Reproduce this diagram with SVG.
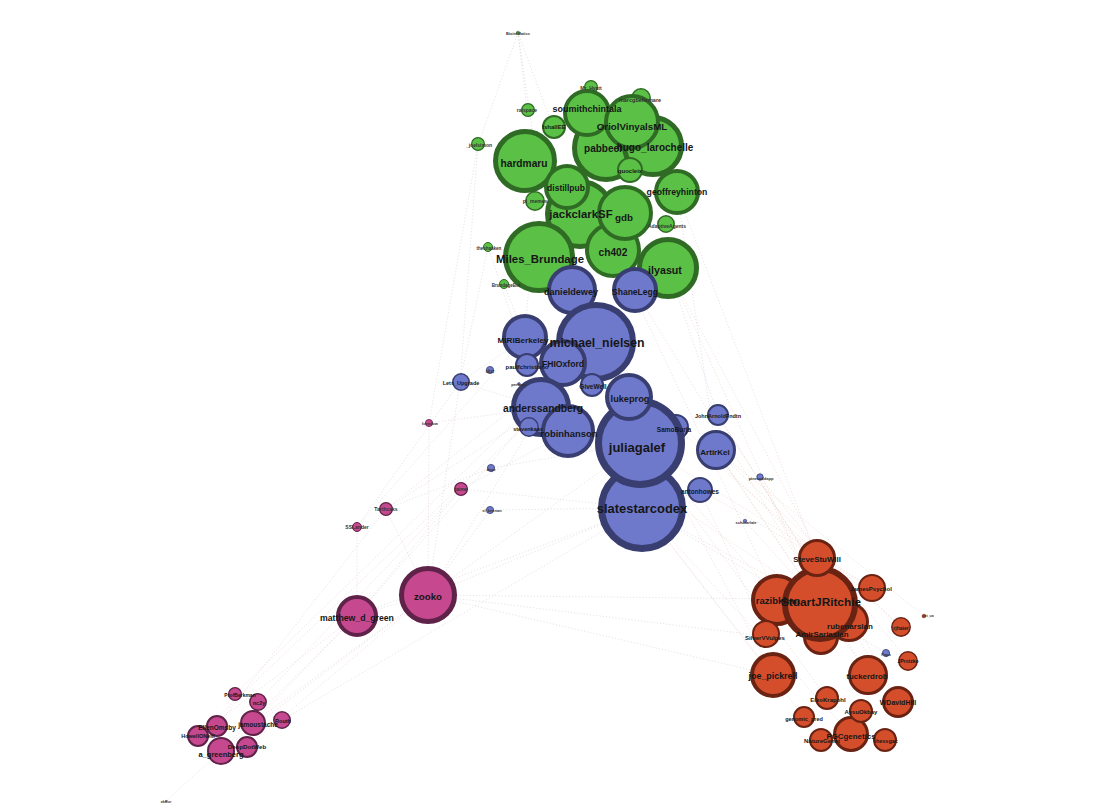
<svg xmlns="http://www.w3.org/2000/svg" width="1100" height="811" viewBox="0 0 1100 811">
<style>
.e{fill:none;stroke-width:0.6;stroke-dasharray:1.2 2;opacity:0.6}
.eg{stroke:#b4b4b4}.ep{stroke:#cfaabd}.eb{stroke:#adb1d3}.eo{stroke:#d9ada1}
.g circle{fill:#5bc146;stroke:#2f6b24}
.b circle{fill:#6e79cc;stroke:#393e70}
.p circle{fill:#c6498f;stroke:#5f2248}
.o circle{fill:#d54e2b;stroke:#6a2313}
text{font-family:"Liberation Sans",Arial,sans-serif;font-weight:bold;fill:#161616;text-anchor:middle;dominant-baseline:central}
.s{fill:#333}
</style>
<rect width="1100" height="811" fill="#ffffff"/>
<g id="connectors">
<line class="e eg" x1="518" y1="33" x2="527" y2="110"/>
<line class="e eg" x1="518" y1="33" x2="553" y2="127"/>
<line class="e eg" x1="518" y1="33" x2="478" y2="145"/>
<line class="e eg" x1="518" y1="33" x2="537" y2="163"/>
<line class="e eg" x1="478" y1="145" x2="460" y2="382"/>
<line class="e eg" x1="488" y1="247" x2="460" y2="382"/>
<line class="e eg" x1="504" y1="284" x2="525" y2="338"/>
<line class="e eg" x1="488" y1="247" x2="543" y2="408"/>
<line class="e eg" x1="535" y1="201" x2="525" y2="338"/>
<line class="e eg" x1="478" y1="145" x2="429" y2="423"/>
<line class="e eb" x1="460" y1="382" x2="525" y2="338"/>
<line class="e eb" x1="460" y1="382" x2="543" y2="408"/>
<line class="e eb" x1="460" y1="382" x2="357" y2="527"/>
<line class="e eb" x1="460" y1="382" x2="428" y2="595"/>
<line class="e ep" x1="429" y1="423" x2="543" y2="408"/>
<line class="e ep" x1="429" y1="423" x2="428" y2="595"/>
<line class="e ep" x1="461" y1="489" x2="569" y2="432"/>
<line class="e ep" x1="461" y1="489" x2="642" y2="508"/>
<line class="e ep" x1="461" y1="489" x2="357" y2="615"/>
<line class="e ep" x1="386" y1="509" x2="543" y2="408"/>
<line class="e ep" x1="386" y1="509" x2="428" y2="595"/>
<line class="e ep" x1="386" y1="509" x2="597" y2="342"/>
<line class="e ep" x1="357" y1="527" x2="357" y2="615"/>
<line class="e ep" x1="357" y1="527" x2="525" y2="338"/>
<line class="e eb" x1="491" y1="468" x2="640" y2="443"/>
<line class="e eb" x1="490" y1="510" x2="642" y2="508"/>
<line class="e eb" x1="490" y1="510" x2="428" y2="595"/>
<line class="e eb" x1="491" y1="468" x2="386" y2="509"/>
<line class="e eg" x1="428" y1="595" x2="642" y2="508"/>
<line class="e eg" x1="428" y1="595" x2="778" y2="599"/>
<line class="e eg" x1="428" y1="595" x2="773" y2="675"/>
<line class="e eg" x1="428" y1="595" x2="640" y2="443"/>
<line class="e eg" x1="428" y1="595" x2="543" y2="408"/>
<line class="e ep" x1="428" y1="595" x2="357" y2="615"/>
<line class="e eg" x1="428" y1="595" x2="764" y2="636"/>
<line class="e ep" x1="357" y1="615" x2="221" y2="751"/>
<line class="e ep" x1="357" y1="615" x2="253" y2="723"/>
<line class="e eg" x1="357" y1="615" x2="642" y2="508"/>
<line class="e eg" x1="357" y1="615" x2="597" y2="342"/>
<line class="e ep" x1="253" y1="723" x2="428" y2="595"/>
<line class="e ep" x1="221" y1="751" x2="428" y2="595"/>
<line class="e ep" x1="247" y1="747" x2="428" y2="595"/>
<line class="e ep" x1="282" y1="720" x2="642" y2="508"/>
<line class="e ep" x1="235" y1="694" x2="597" y2="342"/>
<line class="e ep" x1="198" y1="736" x2="543" y2="408"/>
<line class="e ep" x1="258" y1="702" x2="461" y2="489"/>
<line class="e ep" x1="217" y1="726" x2="386" y2="509"/>
<line class="e ep" x1="166" y1="801" x2="221" y2="751"/>
<line class="e ep" x1="198" y1="736" x2="357" y2="615"/>
<line class="e eo" x1="778" y1="599" x2="640" y2="443"/>
<line class="e eo" x1="820" y1="604" x2="642" y2="508"/>
<line class="e eo" x1="820" y1="604" x2="716" y2="450"/>
<line class="e eo" x1="817" y1="558" x2="597" y2="342"/>
<line class="e eo" x1="849" y1="622" x2="569" y2="432"/>
<line class="e eo" x1="773" y1="675" x2="642" y2="508"/>
<line class="e eo" x1="773" y1="675" x2="597" y2="342"/>
<line class="e eo" x1="868" y1="675" x2="716" y2="450"/>
<line class="e eo" x1="872" y1="588" x2="640" y2="443"/>
<line class="e eo" x1="766" y1="634" x2="700" y2="490"/>
<line class="e eo" x1="898" y1="702" x2="718" y2="415"/>
<line class="e eo" x1="851" y1="734" x2="642" y2="508"/>
<line class="e eo" x1="827" y1="698" x2="640" y2="443"/>
<line class="e eo" x1="901" y1="627" x2="716" y2="450"/>
<line class="e eo" x1="908" y1="661" x2="760" y2="477"/>
<line class="e eo" x1="745" y1="521" x2="820" y2="604"/>
<line class="e eo" x1="760" y1="477" x2="820" y2="604"/>
<line class="e eo" x1="820" y1="604" x2="668" y2="268"/>
<line class="e eo" x1="778" y1="599" x2="613" y2="250"/>
<line class="e eo" x1="817" y1="558" x2="677" y2="192"/>
<line class="e eo" x1="868" y1="675" x2="635" y2="290"/>
<line class="e eo" x1="901" y1="627" x2="676" y2="427"/>
<line class="e eo" x1="849" y1="622" x2="718" y2="415"/>
<line class="e eo" x1="872" y1="588" x2="700" y2="490"/>
<line class="e eo" x1="804" y1="717" x2="642" y2="508"/>
<line class="e eo" x1="898" y1="702" x2="668" y2="268"/>
<line class="e eo" x1="924" y1="616" x2="716" y2="450"/>
<line class="e eb" x1="886" y1="653" x2="642" y2="508"/>
<line class="e eb" x1="718" y1="415" x2="668" y2="268"/>
<line class="e eb" x1="716" y1="450" x2="677" y2="192"/>
</g>
<g id="nodes">
<g id="n-Mr_Hyatt" class="g"><circle cx="591" cy="87" r="6.4" stroke-width="1.2"/></g>
<g id="n-marcgbellemare" class="g"><circle cx="641" cy="98" r="9.2" stroke-width="1.5"/></g>
<g id="n-jackclarkSF" class="g"><circle cx="580" cy="214" r="32.5" stroke-width="5"/></g>
<g id="n-pabbeel" class="g"><circle cx="606" cy="148" r="31.5" stroke-width="5"/></g>
<g id="n-hugo_larochelle" class="g"><circle cx="653" cy="146" r="28.5" stroke-width="5"/></g>
<g id="n-hardmaru" class="g"><circle cx="525" cy="161" r="29.5" stroke-width="5"/></g>
<g id="n-Miles_Brundage" class="g"><circle cx="539" cy="257" r="33.5" stroke-width="5"/></g>
<g id="n-ilyasut" class="g"><circle cx="668" cy="268" r="28.5" stroke-width="5"/></g>
<g id="n-ch402" class="g"><circle cx="613" cy="250" r="26" stroke-width="4"/></g>
<g id="n-gdb" class="g"><circle cx="625" cy="213" r="26" stroke-width="4"/></g>
<g id="n-soumithchintala" class="g"><circle cx="587" cy="113" r="22" stroke-width="4"/></g>
<g id="n-OriolVinyalsML" class="g"><circle cx="632" cy="122" r="26" stroke-width="4"/></g>
<g id="n-distillpub" class="g"><circle cx="567" cy="187" r="21" stroke-width="4"/></g>
<g id="n-geoffreyhinton" class="g"><circle cx="677" cy="192" r="21" stroke-width="4"/></g>
<g id="n-quocleix" class="g"><circle cx="630" cy="170" r="12" stroke-width="2"/></g>
<g id="n-lshallEE" class="g"><circle cx="554" cy="127" r="11" stroke-width="2"/></g>
<g id="n-pl_memes" class="g"><circle cx="535" cy="201" r="9.2" stroke-width="1.5"/></g>
<g id="n-AdaptiveAgents" class="g"><circle cx="666" cy="224" r="8.2" stroke-width="1.5"/></g>
<g id="n-ralspace" class="g"><circle cx="528" cy="110" r="6.4" stroke-width="1.2"/></g>
<g id="n-_joelsimon" class="g"><circle cx="478" cy="144" r="6.4" stroke-width="1.2"/></g>
<g id="n-theshaaken" class="g"><circle cx="488" cy="247" r="4.5" stroke-width="1"/></g>
<g id="n-BrundageBot" class="g"><circle cx="504" cy="284" r="4.5" stroke-width="1"/></g>
<g id="n-BioinfMatics" class="g"><circle cx="518" cy="33" r="1.8" stroke-width="0.6"/></g>

<g id="n-danieldewey" class="b"><circle cx="572" cy="290" r="23" stroke-width="4"/></g>
<g id="n-ShaneLegg" class="b"><circle cx="635" cy="290" r="21" stroke-width="4"/></g>
<g id="n-MIRIBerkeley" class="b"><circle cx="525" cy="337" r="21" stroke-width="4"/></g>
<g id="n-michael_nielsen" class="b"><circle cx="596" cy="342" r="37" stroke-width="6"/></g>
<g id="n-FHIOxford" class="b"><circle cx="563" cy="363" r="22" stroke-width="4"/></g>
<g id="n-paulfchristiano" class="b"><circle cx="527" cy="365" r="11" stroke-width="2"/></g>
<g id="n-GiveWell" class="b"><circle cx="592" cy="385" r="11" stroke-width="2"/></g>
<g id="n-anderssandberg" class="b"><circle cx="541" cy="407" r="27.5" stroke-width="5"/></g>
<g id="n-robinhanson" class="b"><circle cx="568" cy="431" r="25" stroke-width="4"/></g>
<g id="n-stevenkaas" class="b"><circle cx="529" cy="427" r="9.2" stroke-width="1.5"/></g>
<g id="n-SamoBurja" class="b"><circle cx="676" cy="427" r="12" stroke-width="2"/></g>
<g id="n-slatestarcodex" class="b"><circle cx="642" cy="508" r="40.5" stroke-width="7"/></g>
<g id="n-juliagalef" class="b"><circle cx="640" cy="443" r="41.5" stroke-width="7"/></g>
<g id="n-lukeprog" class="b"><circle cx="629" cy="397" r="22" stroke-width="4"/></g>
<g id="n-JohnArnoldFndtn" class="b"><circle cx="718" cy="415" r="10" stroke-width="2"/></g>
<g id="n-ArtirKel" class="b"><circle cx="716" cy="450" r="18.5" stroke-width="3"/></g>
<g id="n-antonhowes" class="b"><circle cx="700" cy="490" r="12" stroke-width="2"/></g>
<g id="n-Lets_Upgrade" class="b"><circle cx="461" cy="382" r="8.2" stroke-width="1.5"/></g>
<g id="n-skzr" class="b"><circle cx="490" cy="370" r="3.6" stroke-width="0.8"/></g>
<g id="n-perhaps" class="b"><circle cx="519" cy="384" r="1.4" stroke-width="0.5"/></g>
<g id="n-pinesaddapp" class="b"><circle cx="760" cy="477" r="3.2" stroke-width="0.8"/></g>
<g id="n-scholarlaie" class="b"><circle cx="745" cy="521" r="1.8" stroke-width="0.6"/></g>
<g id="n-dnpr" class="b"><circle cx="491" cy="468" r="3.6" stroke-width="0.8"/></g>
<g id="n-sl_keenan" class="b"><circle cx="490" cy="510" r="3.6" stroke-width="0.8"/></g>
<g id="n-Papa" class="b"><circle cx="886" cy="653" r="3.6" stroke-width="0.8"/></g>

<g id="n-Iceadow" class="p"><circle cx="429" cy="423" r="3.6" stroke-width="0.8"/></g>
<g id="n-jaime" class="p"><circle cx="461" cy="489" r="6.4" stroke-width="1.2"/></g>
<g id="n-Tarthcaks" class="p"><circle cx="386" cy="509" r="6.4" stroke-width="1.2"/></g>
<g id="n-SSLander" class="p"><circle cx="357" cy="527" r="4.5" stroke-width="1"/></g>
<g id="n-zooko" class="p"><circle cx="428" cy="595" r="26.5" stroke-width="5"/></g>
<g id="n-matthew_d_green" class="p"><circle cx="357" cy="616" r="19" stroke-width="4"/></g>
<g id="n-HowellONeill" class="p"><circle cx="198" cy="736" r="10" stroke-width="2"/></g>
<g id="n-EllenOmsby" class="p"><circle cx="217" cy="726" r="10" stroke-width="2"/></g>
<g id="n-jamoustache" class="p"><circle cx="253" cy="723" r="12" stroke-width="2"/></g>
<g id="n-DeepDotWeb" class="p"><circle cx="247" cy="747" r="10" stroke-width="2"/></g>
<g id="n-a_greenberg" class="p"><circle cx="221" cy="751" r="13" stroke-width="2"/></g>
<g id="n-nc2y" class="p"><circle cx="258" cy="702" r="8.2" stroke-width="1.5"/></g>
<g id="n-ProfBerkman" class="p"><circle cx="235" cy="694" r="6.4" stroke-width="1.2"/></g>
<g id="n-Routh" class="p"><circle cx="282" cy="720" r="8.2" stroke-width="1.5"/></g>
<g id="n-akafur" class="p"><circle cx="166" cy="801" r="0.8" stroke-width="0.4"/></g>

<g id="n-rubenarslan" class="o"><circle cx="849" cy="622" r="18.5" stroke-width="3"/></g>
<g id="n-AmirSariaslan" class="o"><circle cx="821" cy="637" r="16.5" stroke-width="3"/></g>
<g id="n-razibkhan" class="o"><circle cx="777" cy="600" r="24" stroke-width="4"/></g>
<g id="n-StuartJRitchie" class="o"><circle cx="820" cy="604" r="35" stroke-width="6"/></g>
<g id="n-SteveStuWill" class="o"><circle cx="817" cy="558" r="17.5" stroke-width="3"/></g>
<g id="n-JamesPsychol" class="o"><circle cx="872" cy="588" r="13" stroke-width="2"/></g>
<g id="n-SilverVVulpes" class="o"><circle cx="766" cy="634" r="13" stroke-width="2"/></g>
<g id="n-rjhaier" class="o"><circle cx="901" cy="627" r="9.2" stroke-width="1.5"/></g>
<g id="n-pet_ua" class="o"><circle cx="924" cy="616" r="1.8" stroke-width="0.6"/></g>
<g id="n-joe_pickrell" class="o"><circle cx="773" cy="675" r="21" stroke-width="4"/></g>
<g id="n-tuckerdrob" class="o"><circle cx="868" cy="675" r="18.5" stroke-width="3"/></g>
<g id="n-JProtzko" class="o"><circle cx="908" cy="661" r="9.2" stroke-width="1.5"/></g>
<g id="n-EikoKrapohl" class="o"><circle cx="827" cy="698" r="11" stroke-width="2"/></g>
<g id="n-WDavidHill" class="o"><circle cx="898" cy="702" r="14.5" stroke-width="3"/></g>
<g id="n-genomic_pred" class="o"><circle cx="804" cy="717" r="10" stroke-width="2"/></g>
<g id="n-PGCgenetics" class="o"><circle cx="851" cy="734" r="16.5" stroke-width="3"/></g>
<g id="n-AysuOkbay" class="o"><circle cx="861" cy="711" r="11" stroke-width="2"/></g>
<g id="n-NatureGenet" class="o"><circle cx="821" cy="740" r="11" stroke-width="2"/></g>
<g id="n-thessgac" class="o"><circle cx="885" cy="740" r="11" stroke-width="2"/></g>
</g>
<g id="labels">
<text class="s" x="518" y="33" font-size="4">BioinfMatics</text>
<text class="s" x="591" y="88" font-size="5">Mr_Hyatt</text>
<text class="s" x="640" y="100" font-size="5.5">marcgbellemare</text>
<text class="s" x="527" y="110" font-size="5">ralspace</text>
<text x="587" y="109" font-size="9">soumithchintala</text>
<text x="554" y="127" font-size="6">lshallEE</text>
<text x="632" y="126" font-size="9.7">OriolVinyalsML</text>
<text class="s" x="479" y="145" font-size="5">_joelsimon</text>
<text x="603" y="148" font-size="10">pabbeel</text>
<text x="655" y="147" font-size="10">hugo_larochelle</text>
<text x="524" y="163" font-size="10.2">hardmaru</text>
<text x="630" y="171" font-size="6">quocleix</text>
<text x="677" y="192" font-size="8.7">geoffreyhinton</text>
<text x="566" y="188" font-size="8.5">distillpub</text>
<text class="s" x="535" y="201" font-size="5">pl_memes</text>
<text x="581" y="214" font-size="11.4">jackclarkSF</text>
<text x="624" y="217" font-size="9.8">gdb</text>
<text class="s" x="667" y="226" font-size="5">AdaptiveAgents</text>
<text x="613" y="252" font-size="10.2">ch402</text>
<text class="s" x="489" y="248" font-size="4.5">theshaaken</text>
<text x="540" y="259" font-size="11.4">Miles_Brundage</text>
<text x="665" y="270" font-size="10.7">ilyasut</text>
<text class="s" x="506" y="285" font-size="4.5">BrundageBot</text>

<text x="571" y="292" font-size="9.1">danieldewey</text>
<text x="635" y="292" font-size="8.5">ShaneLegg</text>
<text x="597" y="343" font-size="12.3">michael_nielsen</text>
<text x="523" y="340" font-size="8.1">MIRIBerkeley</text>
<text x="563" y="364" font-size="8.6">FHIOxford</text>
<text x="527" y="367" font-size="6">paulfchristiano</text>
<text class="s" x="490" y="371" font-size="4.5">skzr</text>
<text x="461" y="383" font-size="5.5">Lets_Upgrade</text>
<text class="s" x="519" y="384" font-size="4">perhaps</text>
<text x="593" y="386" font-size="6.5">GiveWell</text>
<text x="630" y="399" font-size="9.2">lukeprog</text>
<text x="543" y="408" font-size="10.3">anderssandberg</text>
<text x="528" y="429" font-size="5.5">stevenkaas</text>
<text x="569" y="433" font-size="9.4">robinhanson</text>
<text x="674" y="429" font-size="6.5">SamoBurja</text>
<text x="718" y="416" font-size="5.5">JohnArnoldFndtn</text>
<text x="637" y="447" font-size="13">juliagalef</text>
<text x="715" y="452" font-size="8">ArtirKel</text>
<text class="s" x="761" y="478" font-size="4">pinesaddapp</text>
<text x="700" y="491" font-size="6.5">antonhowes</text>
<text x="642" y="508" font-size="12.9">slatestarcodex</text>
<text class="s" x="746" y="522" font-size="4">scholarlaie</text>
<text class="s" x="491" y="469" font-size="4">dnpr</text>
<text class="s" x="492" y="510" font-size="4">sl_keenan</text>
<text class="s" x="886" y="654" font-size="4">Papa</text>

<text class="s" x="430" y="423" font-size="4">Iceadow</text>
<text class="s" x="461" y="489" font-size="5">jaime</text>
<text class="s" x="386" y="509" font-size="5">Tarthcaks</text>
<text class="s" x="357" y="527" font-size="5">SSLander</text>
<text x="428" y="596" font-size="9.7">zooko</text>
<text x="357" y="618" font-size="8.7">matthew_d_green</text>
<text x="240" y="695" font-size="5">ProfBerkman</text>
<text x="259" y="703" font-size="5.5">nc2y</text>
<text x="283" y="721" font-size="5.5">Routh</text>
<text x="258" y="724" font-size="6.5">jamoustache</text>
<text x="217" y="727" font-size="6.5">EllenOmsby</text>
<text x="198" y="736" font-size="5.5">HowellONeill</text>
<text x="247" y="746" font-size="6.2">DeepDotWeb</text>
<text x="221" y="754" font-size="7.5">a_greenberg</text>
<text x="817" y="559" font-size="7.9">SteveStuWill</text>
<text x="778" y="600" font-size="9.5">razibkhan</text>
<text x="821" y="602" font-size="11.8">StuartJRitchie</text>
<text x="871" y="589" font-size="6">JamesPsychol</text>
<text x="850" y="626" font-size="8">rubenarslan</text>
<text x="822" y="634" font-size="7.9">AmirSariaslan</text>
<text x="765" y="638" font-size="6">SilverVVulpes</text>
<text x="901" y="628" font-size="5">rjhaier</text>
<text class="s" x="928" y="616" font-size="3.5">pet_ua</text>
<text x="773" y="676" font-size="8.9">joe_pickrell</text>
<text x="867" y="676" font-size="7.9">tuckerdrob</text>
<text x="908" y="661" font-size="5">JProtzko</text>
<text x="828" y="700" font-size="6">EikoKrapohl</text>
<text x="898" y="702" font-size="7">WDavidHill</text>
<text x="861" y="712" font-size="6">AysuOkbay</text>
<text x="804" y="719" font-size="5.5">genomic_pred</text>
<text x="851" y="736" font-size="7.9">PGCgenetics</text>
<text x="822" y="741" font-size="6">NatureGenet</text>
<text x="886" y="741" font-size="5.5">thessgac</text>
<text class="s" x="166" y="802" font-size="3.5">akafur</text>
</g>
</svg>
